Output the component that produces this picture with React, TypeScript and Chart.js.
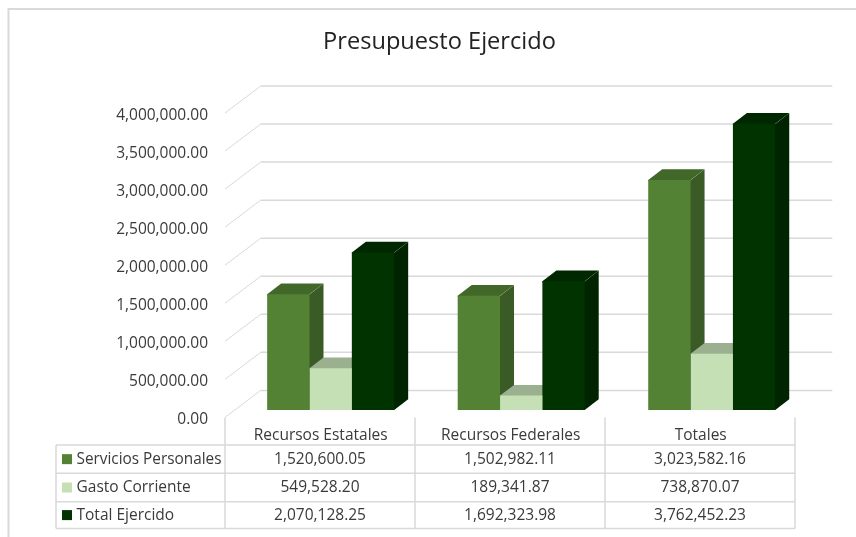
import React, { useEffect, useRef } from "react";
import { Chart, registerables } from "chart.js";

Chart.register(...registerables);

const categories = ["Recursos Estatales", "Recursos Federales", "Totales"];
const serviciosPersonales = [1520600.05, 1502982.11, 3023582.16];
const gastoCorriente = [549528.2, 189341.87, 738870.07];
const totalEjercido = [2070128.25, 1692323.98, 3762452.23];
const seriesNames = ["Servicios Personales", "Gasto Corriente", "Total Ejercido"];
const seriesValues = [serviciosPersonales, gastoCorriente, totalEjercido];
const frontColors = ["#548235", "#c5e0b4", "#003300"];
const sideColors = ["#3a5b25", "#8a9d7e", "#002300"];
const topColors = ["#426829", "#9bb08e", "#002800"];
const titleText = "Presupuesto Ejercido";

const FONT = "'Open Sans'";
const TICK_SIZE = 15.5;
const GRID = "#d9d9d9";
const TEXT = "#3a3a3a";
const fmt = (v: number) =>
  v.toLocaleString("en-US", { minimumFractionDigits: 2, maximumFractionDigits: 2 });

const BAR_DX = 14;
const BAR_DY = -10.7;
const TABLE_COL = 190;

const threeD = {
  id: "threeD",
  afterLayout(chart: any) {
    chart.scales.y.getLabelItems().forEach((it: any) => {
      it.options.translation[1] += 9.7;
    });
    chart.scales.x.getLabelItems().forEach((it: any, i: number) => {
      it.options.translation[0] -= 10 + 0.5 * i;
      it.options.translation[1] += 1;
    });
  },
  beforeDraw(chart: any) {
    const { ctx, chartArea: a, scales } = chart;
    const y = scales.y;
    ctx.save();
    ctx.strokeStyle = GRID;
    ctx.lineWidth = 2;
    ctx.beginPath();
    ctx.moveTo(8.5, 537);
    ctx.lineTo(8.5, 9);
    ctx.lineTo(856, 9);
    ctx.stroke();
    y.ticks.forEach((t: any) => {
      const py = y.getPixelForValue(t.value);
      ctx.strokeStyle = GRID;
      ctx.lineWidth = 1.5;
      ctx.beginPath();
      ctx.moveTo(a.left + 25.3, py - 19.6);
      ctx.lineTo(a.right + 25.3, py - 19.6);
      ctx.stroke();
      ctx.lineWidth = 1;
      ctx.beginPath();
      ctx.moveTo(a.left - 10.4, py + 7.4);
      ctx.lineTo(a.left + 25.3, py - 19.6);
      ctx.stroke();
    });
    ctx.restore();
  },
  beforeDatasetsDraw(chart: any) {
    const { ctx } = chart;
    ctx.save();
    seriesNames.forEach((_, i) => {
      chart.getDatasetMeta(i).data.forEach((bar: any) => {
        const { x, y, base, width } = bar.getProps(["x", "y", "base", "width"], true);
        const l = x - width / 2;
        const r = x + width / 2;
        // faces reach 1px under the front so no seam shows
        ctx.fillStyle = sideColors[i];
        ctx.beginPath();
        ctx.moveTo(r - 1, y + 1);
        ctx.lineTo(r + BAR_DX, y + BAR_DY);
        ctx.lineTo(r + BAR_DX, base + BAR_DY);
        ctx.lineTo(r, base);
        ctx.lineTo(r - 1, base);
        ctx.closePath();
        ctx.fill();
        ctx.fillStyle = topColors[i];
        ctx.beginPath();
        ctx.moveTo(l, y + 1);
        ctx.lineTo(l, y);
        ctx.lineTo(l + BAR_DX, y + BAR_DY);
        ctx.lineTo(r + BAR_DX, y + BAR_DY);
        ctx.lineTo(r, y);
        ctx.lineTo(r, y + 1);
        ctx.closePath();
        ctx.fill();
      });
    });
    ctx.restore();
  },
  afterDatasetsDraw(chart: any) {
    const { ctx, chartArea: a } = chart;
    const left = a.left - 10.4;
    const colW = TABLE_COL;
    const tableLeft = 56;
    const tableRight = left + colW * categories.length;
    const tableTop = 417.5;
    const rows = [445, 473.3, 501.7, 528.5];
    ctx.save();
    ctx.strokeStyle = GRID;
    ctx.lineWidth = 1.5;
    rows.forEach((r) => {
      ctx.beginPath();
      ctx.moveTo(tableLeft, r);
      ctx.lineTo(tableRight, r);
      ctx.stroke();
    });
    ctx.beginPath();
    ctx.moveTo(tableLeft, rows[0]);
    ctx.lineTo(tableLeft, rows[3]);
    ctx.stroke();
    for (let c = 0; c <= categories.length; c++) {
      ctx.beginPath();
      ctx.moveTo(left + c * colW, tableTop);
      ctx.lineTo(left + c * colW, rows[3]);
      ctx.stroke();
    }
    ctx.font = `${TICK_SIZE}px ${FONT}`;
    ctx.textBaseline = "middle";
    seriesNames.forEach((name, s) => {
      const cy = (rows[s] + rows[s + 1]) / 2;
      ctx.fillStyle = frontColors[s];
      ctx.fillRect(62, cy - 5, 10, 10);
      ctx.fillStyle = TEXT;
      ctx.textAlign = "left";
      ctx.fillText(name, 76.5, cy, 145);
      ctx.textAlign = "center";
      seriesValues[s].forEach((v, c) => {
        ctx.fillText(fmt(v), left + (c + 0.5) * colW, cy);
      });
    });
    ctx.restore();
  },
};

export default function App() {
  const ref = useRef<HTMLCanvasElement>(null);
  useEffect(() => {
    const chart = new Chart(ref.current as HTMLCanvasElement, {
      type: "bar",
      data: {
        labels: categories,
        datasets: seriesNames.map((name, s) => ({
          label: name,
          data: seriesValues[s],
          backgroundColor: frontColors[s],
          borderWidth: 0,
          categoryPercentage: 2 / 3,
          barPercentage: 1,
        })),
      },
      options: {
        responsive: false,
        animation: false,
        layout: { padding: { left: 72, right: 49, top: 0, bottom: 0 } },
        plugins: {
          legend: { display: false },
          tooltip: { enabled: false },
          title: {
            display: true,
            text: titleText,
            color: "#222222",
            font: { family: FONT, size: 23.6, weight: "normal", lineHeight: 1.2 },
            padding: { top: 28.6, bottom: 48.7 },
          },
        },
        scales: {
          x: {
            grid: { display: false, drawTicks: false },
            border: { display: false },
            afterFit: (s: any) => {
              s.height = 127;
            },
            ticks: {
              color: TEXT,
              font: { family: FONT, size: TICK_SIZE },
              padding: 15,
              maxRotation: 0,
              autoSkip: false,
            },
          },
          y: {
            min: 0,
            max: 4000000,
            grid: { display: false, drawTicks: false },
            border: { display: false },
            afterFit: (s: any) => {
              s.width = 163.4;
            },
            ticks: {
              stepSize: 500000,
              color: TEXT,
              font: { family: FONT, size: TICK_SIZE },
              padding: 27.4,
              callback: (v: any) => fmt(Number(v)),
            },
          },
        },
      } as any,
      plugins: [threeD],
    });
    return () => chart.destroy();
  }, []);
  return (
    <div style={{ position: "fixed", left: 0, top: 0, width: 856, height: 537, background: "#fff" }}>
      <canvas ref={ref} width={856} height={537} style={{ display: "block" }} />
    </div>
  );
}
